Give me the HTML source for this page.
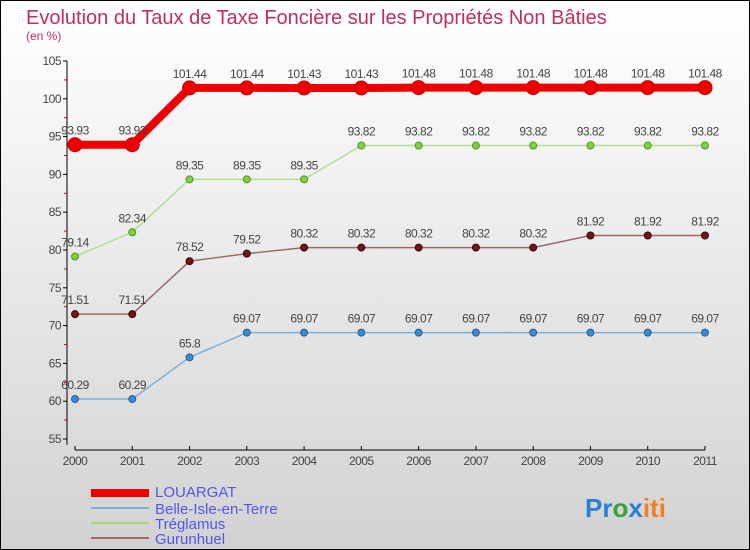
<!DOCTYPE html>
<html><head><meta charset="utf-8"><style>
body{margin:0}
#c{width:750px;height:550px;position:relative;box-sizing:border-box;border:1px solid #000;background:linear-gradient(#ffffff,#d2d2d2);font-family:"Liberation Sans",sans-serif;overflow:hidden}
</style></head><body>
<div id="c">
<svg id="s" width="750" height="550" style="position:absolute;left:-1px;top:-1px">
<text x="26" y="24" font-size="20" fill="#c0305a">Evolution du Taux de Taxe Foncière sur les Propriétés Non Bâties</text>
<text x="26" y="40" font-size="12" fill="#c0305a">(en %)</text>
<g id="axes"></g><g id="plot"></g>
<g>
<rect x="91" y="489" width="58" height="8" fill="#ee0000"/>
<text x="155" y="497" font-size="15" fill="#5555ee">LOUARGAT</text>
<rect x="91" y="507" width="58" height="2" fill="#7fb0d8"/>
<text x="155" y="514" font-size="15" fill="#5555ee">Belle-Isle-en-Terre</text>
<rect x="91" y="522" width="58" height="2" fill="#9ed870"/>
<text x="155" y="529" font-size="15" fill="#5555ee">Tréglamus</text>
<rect x="91" y="537" width="58" height="2" fill="#9a6a6a"/>
<text x="155" y="544" font-size="15" fill="#5555ee">Gurunhuel</text>
</g>
<text x="585" y="517" font-size="26" font-weight="bold"><tspan fill="#2a7fd4">Pr</tspan><tspan fill="#3aa03a">o</tspan><tspan fill="#2a7fd4">x</tspan><tspan fill="#f08020">iti</tspan></text>
</svg>
</div>
<script>
const years=[2000,2001,2002,2003,2004,2005,2006,2007,2008,2009,2010,2011];
const louargat=[93.93,93.93,101.44,101.44,101.43,101.43,101.48,101.48,101.48,101.48,101.48,101.48];
const belleIsle=[60.29,60.29,65.8,69.07,69.07,69.07,69.07,69.07,69.07,69.07,69.07,69.07];
const treglamus=[79.14,82.34,89.35,89.35,89.35,93.82,93.82,93.82,93.82,93.82,93.82,93.82];
const gurunhuel=[71.51,71.51,78.52,79.52,80.32,80.32,80.32,80.32,80.32,81.92,81.92,81.92];
const yTicks=[55,60,65,70,75,80,85,90,95,100,105];
const NS="http://www.w3.org/2000/svg";
const X=i=>75+i*(630/11);
const Y=v=>61+(105-v)*7.56;
function mk(t,a,p){const e=document.createElementNS(NS,t);for(const k in a)e.setAttribute(k,a[k]);p.appendChild(e);return e;}
const ax=document.getElementById('axes'),pl=document.getElementById('plot');
const ya=mk('line',{x1:67,y1:61,x2:67,y2:445,stroke:'#000'},ax);


yTicks.forEach(v=>{
 mk('line',{x1:63,x2:67,y1:Y(v),y2:Y(v),stroke:'#000'},ax);
 if(v<105)mk('line',{x1:64,x2:67,y1:Y(v+2.5),y2:Y(v+2.5),stroke:'#d00'},ax);
 const t=mk('text',{x:61,y:Y(v)+4,'font-size':12,fill:'#444','text-anchor':'end','letter-spacing':'-0.5'},ax);t.textContent=v;
 
 
});
const xa=mk('line',{x1:75,y1:450,x2:705,y2:450,stroke:'#000'},ax);


years.forEach((y,i)=>{
 mk('line',{x1:X(i),x2:X(i),y1:446,y2:450,stroke:'#000'},ax);
 const t=mk('text',{x:X(i),y:465,'font-size':12,fill:'#444','text-anchor':'middle','letter-spacing':'-0.5'},ax);t.textContent=y;
 
 
});
function series(d,name,col,dot,w,r,stroke){
 const g=mk('g',{},pl);
 
 
 mk('polyline',{points:d.map((v,i)=>X(i)+','+Y(v)).join(' '),fill:'none',stroke:col,'stroke-width':w,'stroke-linejoin':'round'},g);
 d.forEach((v,i)=>{
  const c=mk('circle',{cx:X(i),cy:Y(v),r:r,fill:dot,stroke:stroke,'stroke-width':1},g);
  
  
  const t=mk('text',{x:X(i),y:Y(v)-10,'font-size':12,fill:'#444','text-anchor':'middle','letter-spacing':'-0.5'},g);t.textContent=v;
  
  
 });
}
series(belleIsle,'belle-isle','#7fb0d8','#3a8ad0',1.5,3.5,'#2a5f90');
series(gurunhuel,'gurunhuel','#9a6a6a','#6a1a1a',1.5,3.5,'#400');
series(treglamus,'treglamus','#b0e090','#80d040',1.5,3.5,'#4a9a20');
series(louargat,'louargat','#ee0000','#ee0000',8,7,'#cc0000');
</script>
</body></html>
